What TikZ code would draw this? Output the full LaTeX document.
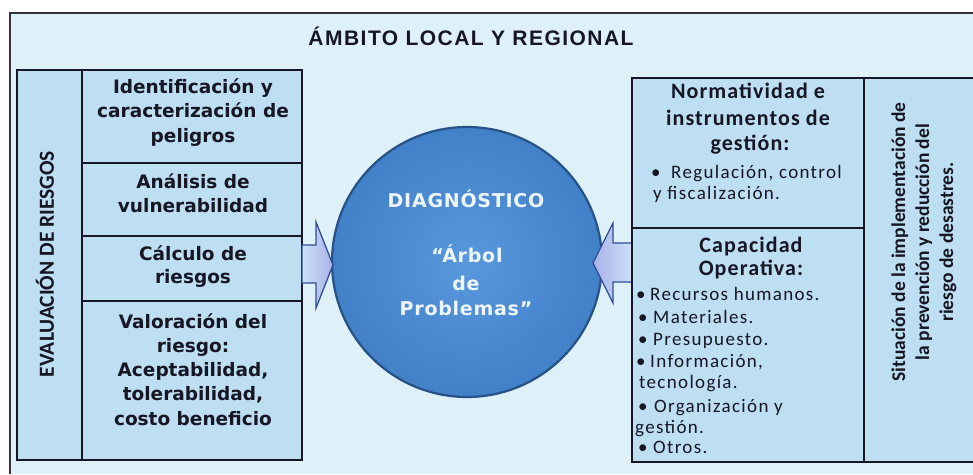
\documentclass[tikz,border=0pt]{standalone}
\usepackage{fontspec}
\setmainfont{Carlito}
\newfontfamily\dv{DejaVu Sans}
\newfontfamily\circfont{DejaVu Sans}[LetterSpace=4]
\newfontfamily\lib{Liberation Sans}[LetterSpace=7]
\newfontfamily\carsp{Carlito}[LetterSpace=7]
\newfontfamily\carhd{Carlito}[LetterSpace=5]
\newfontfamily\car{Carlito}
\definecolor{bg}{RGB}{222,241,249}
\definecolor{cellfill}{RGB}{190,222,242}
\definecolor{circin}{RGB}{88,152,220}
\definecolor{circout}{RGB}{66,128,200}
\definecolor{circedge}{RGB}{38,82,135}
\definecolor{arrA}{RGB}{205,225,247}
\definecolor{arrB}{RGB}{168,176,232}
\definecolor{arredge}{RGB}{48,78,150}
\definecolor{txt}{RGB}{22,22,36}
\definecolor{ctxt}{RGB}{238,246,252}
\tikzset{
  cellline/.style={draw=txt, line width=1.7pt},
  frameline/.style={draw=black!80, line width=1.6pt},
  lt/.style={font=\dv\bfseries\fontsize{18.5}{21}\selectfont, text=txt, anchor=base, inner sep=0pt},
  ct/.style={font=\circfont\bfseries\fontsize{19}{22}\selectfont, text=ctxt, anchor=base, inner sep=0pt},
  rh/.style={font=\carhd\bfseries\fontsize{22}{24}\selectfont, text=txt, anchor=base, inner sep=0pt},
  rb/.style={font=\carsp\fontsize{19}{22}\selectfont, text=txt, anchor=base west, inner sep=0pt},
  blockarrow/.style={draw=arredge, line width=1.3pt, left color=arrA, right color=arrB, line join=miter},
}
\begin{document}
\begin{tikzpicture}[x=1pt,y=-1pt]
\clip (0,0) rectangle (973,474);
\fill[white] (0,0) rectangle (973,474);
\fill[bg] (10,13) rectangle (973,474);
\draw[frameline] (10,474) -- (10,13) -- (973,13);

% title
\node[font=\lib\bfseries\fontsize{21}{24}\selectfont, text=txt, anchor=base, inner sep=0pt] (title) at (471,45) {ÁMBITO LOCAL Y REGIONAL};

% left panel
\fill[cellfill] (17,70) rectangle (302,460);
\draw[cellline] (17,70) rectangle (302,460);
\draw[cellline] (82,70) -- (82,460);
\draw[cellline] (82,163) -- (302,163);
\draw[cellline] (82,236) -- (302,236);
\draw[cellline] (82,301) -- (302,301);
\node[font=\car\bfseries\fontsize{21.5}{24}\selectfont, text=txt, rotate=90, inner sep=0pt] (evr) at (45,264) {EVALUACIÓN DE RIESGOS};

\node[lt] (l1a) at (193,93) {Identificación y};
\node[lt] (l1b) at (193,117) {caracterización de};
\node[lt] (l1c) at (193,142) {peligros};
\node[lt] (l2a) at (193,188) {Análisis de};
\node[lt] (l2b) at (193,212) {vulnerabilidad};
\node[lt] (l3a) at (193,260) {Cálculo de};
\node[lt] (l3b) at (193,283) {riesgos};
\node[lt] (l4a) at (193,328) {Valoración del};
\node[lt] (l4b) at (193,352) {riesgo:};
\node[lt] (l4c) at (193,376) {Aceptabilidad,};
\node[lt] (l4d) at (193,400) {tolerabilidad,};
\node[lt] (l4e) at (193,425) {costo beneficio};

% circle
\node[circle, draw=circedge, line width=2.2pt, inner color=circin, outer color=circout, minimum size=270pt, inner sep=0pt] (diag) at (467,262) {};
\node[ct] (c1) at (466,207) {DIAGNÓSTICO};
\node[ct] (c2) at (467,262) {“Árbol};
\node[ct] (c3) at (466,290) {de};
\node[ct] (c4) at (466,315) {Problemas”};

% arrows
\path[blockarrow] (302,245) -- (316,245) -- (316,222) -- (333,265) -- (316,308) -- (316,283) -- (302,283) -- cycle;
\path[blockarrow, left color=arrB, right color=arrA] (632,243) -- (613,243) -- (613,223) -- (593,263) -- (613,303) -- (613,282) -- (632,282) -- cycle;

% right panel
\fill[cellfill] (632,78) rectangle (990,462);
\draw[cellline] (990,78) -- (632,78) -- (632,462) -- (990,462);
\draw[cellline] (864,78) -- (864,462);
\draw[cellline] (632,228) -- (864,228);

\node[rh] (n1) at (748,98) {Normatividad e};
\node[rh] (n2) at (748,125) {instrumentos de};
\node[rh] (n3) at (750,150) {gestión:};
\node[rb] (nb1) at (651,178) {•};
\node[rb] (nt1) at (671,178) {Regulación, control};
\node[rb] (nt2) at (653,199) {y fiscalización.};

\node[rh] (k1) at (751,252) {Capacidad};
\node[rh] (k2) at (751,275) {Operativa:};
\node[rb] (kb1) at (636,300) {•};
\node[rb] (kt1) at (650,300) {Recursos humanos.};
\node[rb] (kb2) at (638,323) {•};
\node[rb] (kt2) at (653,323) {Materiales.};
\node[rb] (kb3) at (638,345) {•};
\node[rb] (kt3) at (653,345) {Presupuesto.};
\node[rb] (kb4) at (636,367) {•};
\node[rb] (kt4) at (650,367) {Información,};
\node[rb] (kt5) at (639,388) {tecnología.};
\node[rb] (kb6) at (638,412) {•};
\node[rb] (kt6) at (654,412) {Organización y};
\node[rb] (kt7) at (635,433) {gestión.};
\node[rb] (kb8) at (638,453) {•};
\node[rb] (kt8) at (653,453) {Otros.};

\node[font=\car\bfseries\fontsize{19.5}{24}\selectfont, text=txt, rotate=90, align=center, inner sep=0pt] (sit) at (924,242) {Situación de la implementación de\\la prevención y reducción del\\riesgo de desastres.};
\end{tikzpicture}
\end{document}
